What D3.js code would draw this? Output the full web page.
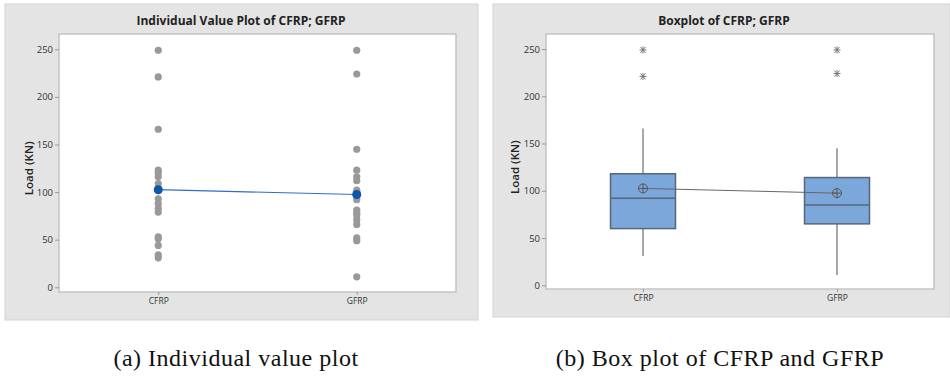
<!DOCTYPE html>
<html>
<head>
<meta charset="utf-8">
<script src="https://cdn.jsdelivr.net/npm/d3@7"></script>
<style>
  body { margin: 0; background: #fff; }
  svg { display: block; }
  .tick text { font-family: 'Open Sans', sans-serif; fill: #333; }
</style>
</head>
<body>
<svg id="chart" width="950" height="377"></svg>
<script>
// Values (Load in KN)
const categories = ['CFRP', 'GFRP'];
const cfrpValues = [249, 221, 166, 123, 120, 116, 109, 104, 93, 88, 83, 79, 53, 51, 44, 34, 31];
const gfrpValues = [249, 224, 145, 123, 116, 112, 102, 99, 96, 92, 81, 78, 76, 71, 66, 52, 49, 11];
const meanValues = [102.5, 97.5];
// boxplot stats per category
const boxQ1 = [60, 65];
const boxMedian = [92, 85];
const boxQ3 = [118, 114];
const whiskerLow = [31, 11];
const whiskerHigh = [166, 145];
const outliers = [[249, 221], [249, 224]];
const yTicks = [0, 50, 100, 150, 200, 250];

const svg = d3.select('#chart');

function panel(cfg) {
  // grey backdrop
  svg.append('rect')
    .attr('x', cfg.bg[0]).attr('y', cfg.bg[1])
    .attr('width', cfg.bg[2]).attr('height', cfg.bg[3])
    .attr('fill', '#e4e4e4')
    .attr('stroke', '#d4d4d4');

  // plot area
  svg.append('rect')
    .attr('x', cfg.plot[0]).attr('y', cfg.plot[1])
    .attr('width', cfg.plot[2]).attr('height', cfg.plot[3])
    .attr('fill', '#fff')
    .attr('stroke', '#c4c4c4')
    .attr('stroke-width', 1.5);

  const x = d3.scalePoint()
    .domain(categories)
    .range([cfg.plot[0], cfg.plot[0] + cfg.plot[2]])
    .padding(0.5);
  const y = d3.scaleLinear()
    .domain([0, 250])
    .range(cfg.yRange);

  const yAxisG = svg.append('g')
    .attr('transform', `translate(${cfg.plot[0]},0)`)
    .call(d3.axisLeft(y).tickValues(yTicks).tickSize(4).tickPadding(2));
  yAxisG.select('.domain').remove();
  yAxisG.selectAll('.tick line').attr('stroke', '#999');
  yAxisG.selectAll('.tick text').style('font-size', '9.5px');

  const xAxisG = svg.append('g')
    .attr('transform', `translate(0,${cfg.plot[1] + cfg.plot[3]})`)
    .call(d3.axisBottom(x).tickSize(3).tickPadding(3));
  xAxisG.select('.domain').remove();
  xAxisG.selectAll('.tick line').attr('stroke', '#999');
  xAxisG.selectAll('.tick text').style('font-size', '8.5px');

  // title
  svg.append('text')
    .attr('x', cfg.titleX)
    .attr('y', 25)
    .attr('text-anchor', 'middle')
    .style('font-family', "'Open Sans', sans-serif")
    .style('font-weight', 'bold')
    .style('font-size', '12px')
    .attr('fill', '#222')
    .text(cfg.title);

  // y label
  svg.append('text')
    .attr('transform', `translate(${cfg.yLabelX},${(y(0) + y(250)) / 2}) rotate(-90)`)
    .attr('text-anchor', 'middle')
    .style('font-family', "'Open Sans', sans-serif")
    .style('font-weight', 600)
    .style('font-size', '11.5px')
    .attr('fill', '#222')
    .text('Load (KN)');

  // caption under the panel
  svg.append('text')
    .attr('x', cfg.captionX)
    .attr('y', 366)
    .attr('text-anchor', 'middle')
    .style('font-family', "'Liberation Serif', serif")
    .style('font-size', '24px')
    .style('letter-spacing', '0.5px')
    .attr('fill', '#111')
    .text(cfg.caption);

  return { x, y };
}

// (a) individual value plot
const a = panel({
  bg: [5, 4, 473, 316],
  plot: [59, 34, 397, 258],
  yRange: [287.3, 49.3],
  titleX: 241,
  yLabelX: 33,
  title: 'Individual Value Plot of CFRP; GFRP',
  captionX: 236,
  caption: '(a) Individual value plot'
});

const points = [];
cfrpValues.forEach(v => points.push({ cat: 'CFRP', v }));
gfrpValues.forEach(v => points.push({ cat: 'GFRP', v }));

svg.append('g').selectAll('circle')
  .data(points)
  .join('circle')
    .attr('cx', d => a.x(d.cat))
    .attr('cy', d => a.y(d.v))
    .attr('r', 3.6)
    .attr('fill', '#999');

const means = categories.map((c, i) => ({ cat: c, v: meanValues[i] }));
svg.append('path')
  .datum(means)
  .attr('fill', 'none')
  .attr('stroke', '#2d6fc4')
  .attr('stroke-width', 1.2)
  .attr('d', d3.line().x(d => a.x(d.cat)).y(d => a.y(d.v)));
svg.append('g').selectAll('circle')
  .data(means)
  .join('circle')
    .attr('cx', d => a.x(d.cat))
    .attr('cy', d => a.y(d.v))
    .attr('r', 4.5)
    .attr('fill', '#0b57aa');

// (b) boxplot
const b = panel({
  bg: [493, 4, 457, 313],
  plot: [546, 34, 388, 255],
  yRange: [285.3, 49],
  titleX: 724,
  yLabelX: 519,
  title: 'Boxplot of CFRP; GFRP',
  captionX: 720,
  caption: '(b) Box plot of CFRP and GFRP'
});

const boxW = 65;
const boxes = categories.map((c, i) => ({
  cat: c, q1: boxQ1[i], med: boxMedian[i], q3: boxQ3[i],
  lo: whiskerLow[i], hi: whiskerHigh[i], out: outliers[i], mean: meanValues[i]
}));

const bg = svg.append('g');
// whiskers
bg.selectAll('.whisker-hi')
  .data(boxes)
  .join('line')
    .attr('x1', d => b.x(d.cat)).attr('x2', d => b.x(d.cat))
    .attr('y1', d => b.y(d.hi)).attr('y2', d => b.y(d.q3))
    .attr('stroke', '#8a8a8a').attr('stroke-width', 1.5);
bg.selectAll('.whisker-lo')
  .data(boxes)
  .join('line')
    .attr('x1', d => b.x(d.cat)).attr('x2', d => b.x(d.cat))
    .attr('y1', d => b.y(d.q1)).attr('y2', d => b.y(d.lo))
    .attr('stroke', '#8a8a8a').attr('stroke-width', 1.5);
// boxes
bg.selectAll('rect')
  .data(boxes)
  .join('rect')
    .attr('x', d => b.x(d.cat) - boxW / 2)
    .attr('y', d => b.y(d.q3))
    .attr('width', boxW)
    .attr('height', d => b.y(d.q1) - b.y(d.q3))
    .attr('fill', '#7ba7da')
    .attr('stroke', '#56677a')
    .attr('stroke-width', 1.5);
bg.selectAll('.median')
  .data(boxes)
  .join('line')
    .attr('x1', d => b.x(d.cat) - boxW / 2).attr('x2', d => b.x(d.cat) + boxW / 2)
    .attr('y1', d => b.y(d.med)).attr('y2', d => b.y(d.med))
    .attr('stroke', '#56677a').attr('stroke-width', 1.5);

// mean connect line + circle-plus symbols
bg.append('path')
  .datum(boxes)
  .attr('fill', 'none')
  .attr('stroke', '#666')
  .attr('stroke-width', 1)
  .attr('d', d3.line().x(d => b.x(d.cat)).y(d => b.y(d.mean)));
const meanSym = bg.selectAll('.mean-sym')
  .data(boxes)
  .join('g')
    .attr('transform', d => `translate(${b.x(d.cat)},${b.y(d.mean)})`);
meanSym.append('circle')
  .attr('r', 4.5).attr('fill', 'none')
  .attr('stroke', '#555').attr('stroke-width', 1);
meanSym.append('path')
  .attr('d', 'M-4.5,0H4.5M0,-4.5V4.5')
  .attr('stroke', '#555').attr('stroke-width', 1);

// outliers as asterisks
const outPts = [];
boxes.forEach(d => d.out.forEach(v => outPts.push({ cat: d.cat, v })));
bg.selectAll('.outlier')
  .data(outPts)
  .join('path')
    .attr('transform', d => `translate(${b.x(d.cat)},${b.y(d.v)})`)
    .attr('d', 'M-3.5,0H3.5M-2.5,-3L2.5,3M-2.5,3L2.5,-3M0,-3.5V3.5')
    .attr('stroke', '#777')
    .attr('stroke-width', 1);
</script>
</body>
</html>
